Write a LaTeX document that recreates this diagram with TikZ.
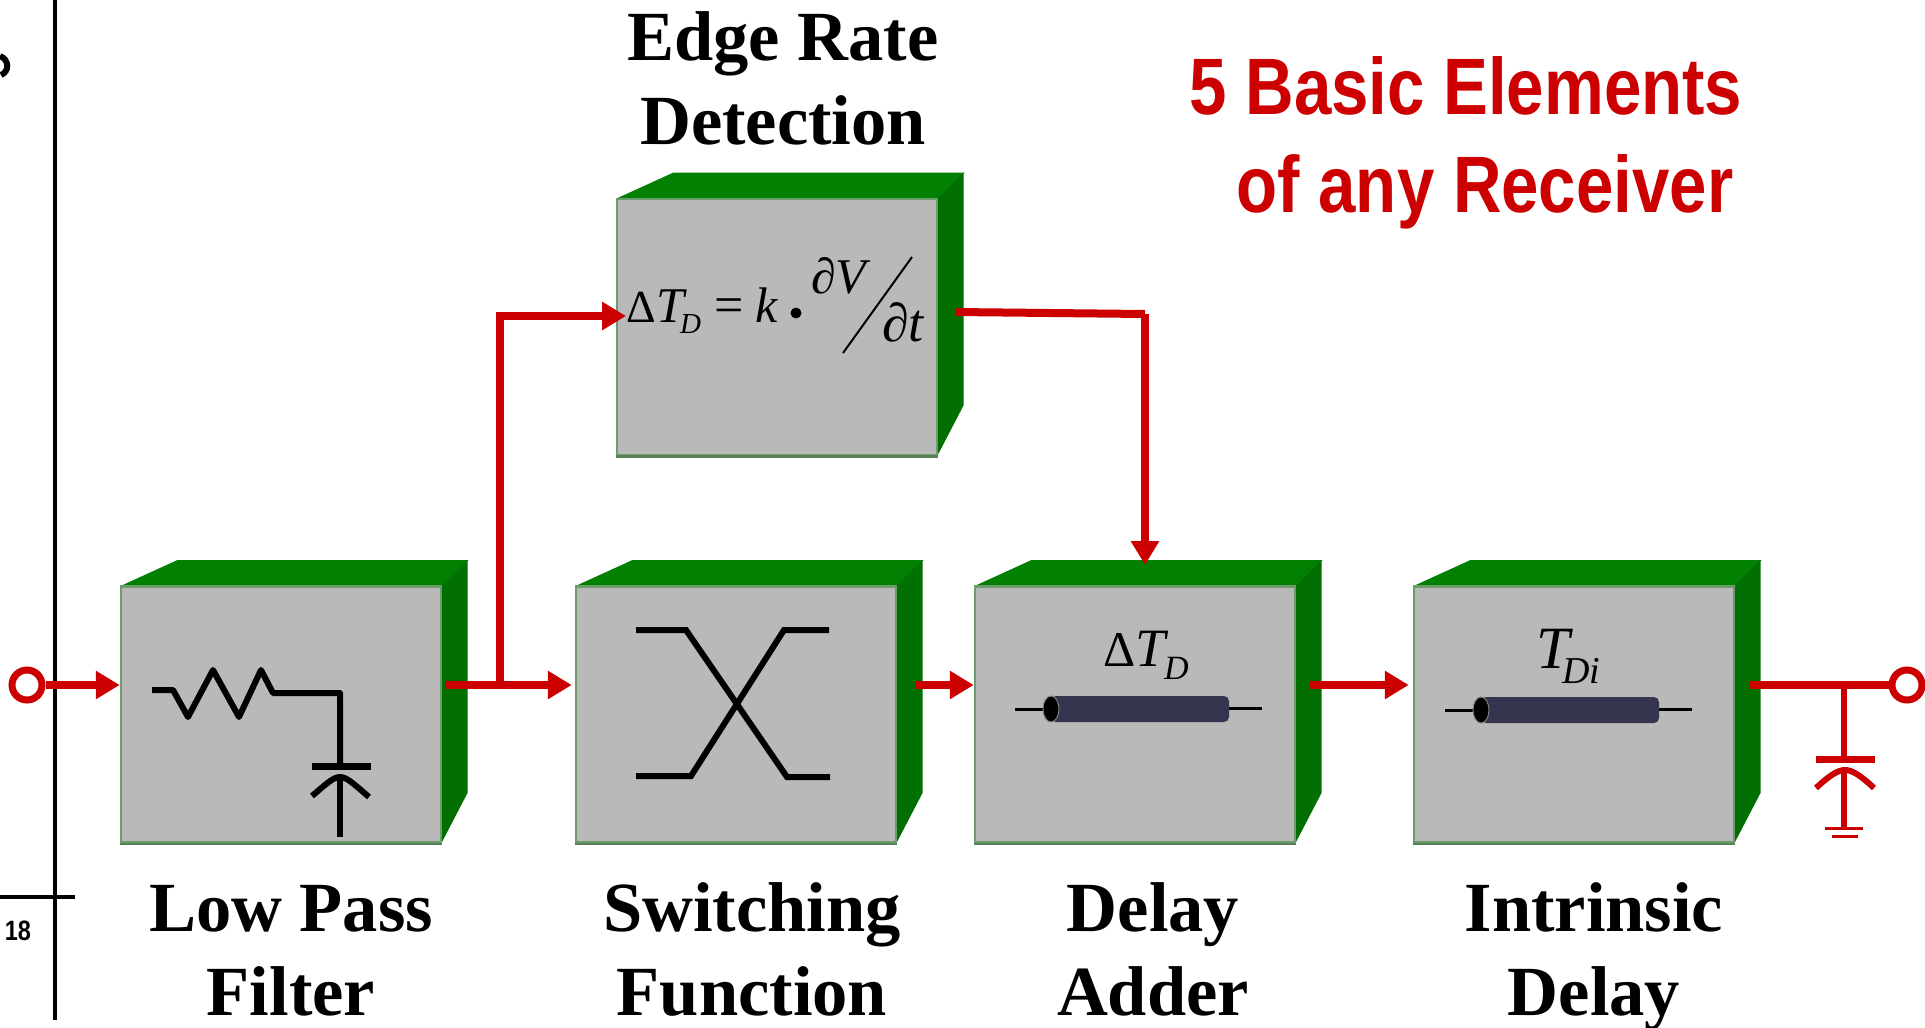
\documentclass[tikz,border=0pt]{standalone}
\usepackage{fontspec}
\setmainfont{Liberation Serif}
\newfontfamily\headfont[FakeStretch=0.84]{Liberation Sans}
\usetikzlibrary{arrows.meta}
\definecolor{wirered}{HTML}{CC0000}
\definecolor{boxgray}{HTML}{B9B9B9}
\definecolor{boxedge}{HTML}{6C9C6C}
\definecolor{boxlow}{HTML}{5A805A}
\definecolor{topgreen}{HTML}{028002}
\definecolor{sidegreen}{HTML}{026F02}
\definecolor{cablefill}{HTML}{35354F}
\tikzset{
  blockbox/.style={draw=boxedge, fill=boxgray, line width=2.5pt, minimum width=320pt, minimum height=256pt, inner sep=0pt},
  wire/.style={draw=wirered, line width=8pt},
  wirearrow/.style={wire, -{Triangle[length=24pt,width=27pt]}},
  portring/.style={circle, draw=wirered, line width=7pt, fill=white, minimum size=30pt, inner sep=0pt},
  circuit/.style={line width=6pt, draw=black},
  lead/.style={line width=3pt, draw=black},
  blocklabel/.style={font=\fontsize{70.5}{84}\selectfont\bfseries, align=center, anchor=base},
  headline/.style={font=\fontsize{80}{98}\selectfont\headfont\bfseries, text=wirered, anchor=base west},
  symbol/.style={anchor=base west, inner sep=0pt, font=\itshape}
}
\newcommand{\blockat}[3]{%
  \fill[topgreen] (#1-321/2,#2-257/2) -- ++(57,-26) -- ++(291,0) -- ++(-26,26) -- cycle;
  \fill[sidegreen] (#1+321/2,#2-257/2) -- ++(26,-26) -- ++(0,233) -- ++(-26,50) -- cycle;
  \node[blockbox] (#3) at (#1,#2) {};
  \draw[boxlow, line width=2.5pt] (#3.south west) -- (#3.south east);
}
\newcommand{\cablepiece}[2]{%
  \draw[lead] (#1-36,#2) -- (#1,#2);
  \draw[lead] (#1+176,#2-1) -- (#1+211,#2-1);
  \fill[cablefill, rounded corners=5pt] (#1,#2-13) rectangle (#1+178,#2+13);
  \filldraw[fill=black, draw=gray, line width=1pt] (#1,#2) ellipse (8 and 13);
}
\begin{document}
\begin{tikzpicture}[x=1pt,y=-1pt]
\useasboundingbox (0,0) rectangle (1925,1028);

% slide rule and page number
\draw[line width=4pt] (55,0) -- (55,1020);
\draw[line width=4pt] (0,897) -- (75,897);
\draw[line width=6pt] (0,56) .. controls (10,60) and (9,72) .. (1,75);
\node[font=\fontsize{28}{28}\selectfont\headfont\bfseries] (pagenum) at (18,931) {18};

% blocks
\blockat{281}{714.5}{lpf}
\blockat{736}{714.5}{sw}
\blockat{1135}{714.5}{adder}
\blockat{1574}{714.5}{intrinsic}
\blockat{777}{327}{edge}

% ports and wires
\node[portring] (inport) at (27,685) {};
\node[portring] (outport) at (1907,685) {};
\coordinate (split) at (500,685);
\coordinate (edgein) at (626,316);
\coordinate (edgeout) at (955,312);
\coordinate (addertop) at (1145,565);
\coordinate (capnode) at (1844,685);
\draw[wirearrow] (inport.east) -- (inport.east -| lpf.west);
\draw[wirearrow, shorten >=3pt] (445,685) -- (sw.west |- split);
\draw[wirearrow] (split) -- (split |- edgein) -- (edgein);
\draw[wire] (edgeout) -- (1145,314);
\draw[wirearrow] (1145,314) -- (addertop);
\draw[wirearrow] (916,685) -- (adder.west |- split);
\draw[wirearrow, shorten >=4pt] (1310,685) -- (intrinsic.west |- split);
\draw[wire] (1750,685) -- (outport.west);

% output load
\draw[wirered, line width=6pt] (capnode) -- (1844,759);
\draw[wirered, line width=7pt] (1816,759) -- (1875,759);
\draw[wirered, line width=6pt] (1816,788) .. controls (1830,775) and (1838,770) .. (1845,770) .. controls (1852,770) and (1860,775) .. (1874,788);
\draw[wirered, line width=6pt] (1844,770) -- (1844,828);
\draw[wirered, line width=3pt] (1825,828) -- (1863,828);
\draw[wirered, line width=3pt] (1832,836) -- (1858,836);

% low pass filter
\draw[circuit, line join=round] (152,690) -- (173,690) -- (188,717) -- (213,670) -- (239,717) -- (261,670) -- (273,693) -- (340,693) -- (340,766);
\draw[circuit, line width=7pt] (312,766) -- (371,766);
\draw[circuit] (312,796) .. controls (325,785) and (333,777) .. (340,777) .. controls (347,777) and (355,785) .. (369,797);
\draw[circuit] (340,777) -- (340,837);

% switching function
\draw[circuit] (636,630) -- (686,630) -- (787,777) -- (830,777);
\draw[circuit] (636,776) -- (691,776) -- (784,630) -- (829,630);

% delay lines
\cablepiece{1051}{709}
\cablepiece{1481}{710}
\node[symbol, font=\fontsize{50}{50}\selectfont] (adddelta) at (1103,666) {Δ};
\node[symbol, font=\fontsize{54}{54}\selectfont\itshape] (addt) at (1135,666) {T};
\node[symbol, font=\fontsize{34}{34}\selectfont\itshape] (addd) at (1164,679) {D};
\node[symbol, font=\fontsize{60}{60}\selectfont\itshape] (intt) at (1536,668) {T};
\node[symbol, font=\fontsize{38}{38}\selectfont\itshape] (intd) at (1562,683) {Di};

% edge rate formula
\node[symbol, font=\fontsize{46}{46}\selectfont] (edgedelta) at (626,322) {Δ};
\node[symbol, font=\fontsize{50}{50}\selectfont\itshape] (edget) at (656,322) {T};
\node[symbol, font=\fontsize{29}{29}\selectfont\itshape] (edged) at (680,333) {D};
\node[symbol, font=\fontsize{52}{52}\selectfont] (edgeeq) at (714,322) {=};
\node[symbol, font=\fontsize{50}{50}\selectfont\itshape] (edgek) at (755,322) {k};
\fill (796,313) circle (5.5);
\node[symbol, font=\fontsize{50}{50}\selectfont\itshape] (edgev) at (811,293) {∂V};
\draw[line width=2pt] (912,257) -- (843,353);
\node[symbol, font=\fontsize{54}{54}\selectfont\itshape] (edgedt) at (882,341) {∂t};

% names
\node[blocklabel] (edgename) at (783,144) {Edge Rate\\Detection};
\node[blocklabel] (lpfname) at (291,1015) {Low Pass\\Filter};
\node[blocklabel] (swname) at (752,1015) {Switching\\Function};
\node[blocklabel] (addername) at (1153,1015) {Delay\\Adder};
\node[blocklabel] (intname) at (1594,1015) {Intrinsic\\Delay};

\node[headline] (headone) at (1186,114.5) {5 Basic Elements};
\node[headline] (headtwo) at (1233,212.5) {of any Receiver};
\end{tikzpicture}
\end{document}
